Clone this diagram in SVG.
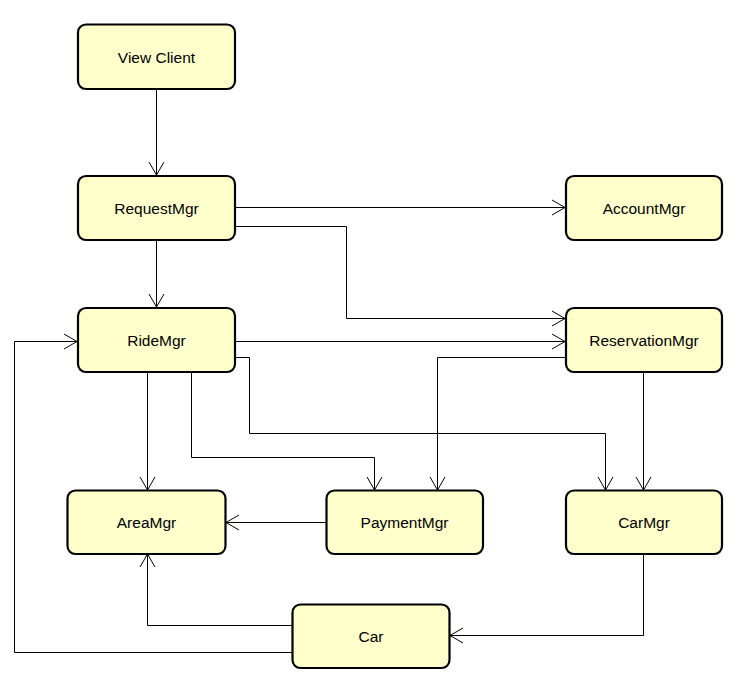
<svg xmlns="http://www.w3.org/2000/svg" width="739" height="679" viewBox="0 0 739 679">
  <style>
    .node rect { fill: #ffffcc; stroke: #000; stroke-width: 2.2; }
    .node text { font-family: "Liberation Sans", Arial, sans-serif; font-size: 15.5px; fill: #000; text-anchor: middle; }
    #edges path { fill: none; stroke: #000; stroke-width: 1; marker-end: url(#open); }
  </style>
  <defs>
    <marker id="open" markerUnits="userSpaceOnUse" markerWidth="20" markerHeight="20" viewBox="-15 -10 17 20" refX="0" refY="0" orient="auto">
      <path d="M-13,-7.5 L0,0 L-13,7.5" fill="none" stroke="#000" stroke-width="1"/>
    </marker>
  </defs>
  <rect width="739" height="679" fill="#fff"/>

  <g id="edges">
    <path d="M156.5,89 V175"/>
    <path d="M235,207.5 H565"/>
    <path d="M235,226.5 H346.5 V318.5 H565"/>
    <path d="M156.5,240 V307"/>
    <path d="M235,341.5 H565"/>
    <path d="M147.5,372 V490"/>
    <path d="M191.5,372 V457.5 H374.5 V490"/>
    <path d="M235,357.5 H249.5 V433.5 H605.5 V490"/>
    <path d="M565,357.5 H437.5 V490"/>
    <path d="M643.5,372 V490"/>
    <path d="M326,522.5 H226"/>
    <path d="M643.5,554 V635.5 H450"/>
    <path d="M292,625.5 H147.5 V554"/>
    <path d="M292,652.5 H14.5 V341.5 H77"/>
  </g>

  <g id="view-client" class="node">
    <rect x="78" y="24.5" width="157" height="64.5" rx="8"/>
    <text x="156.5" y="62.5">View Client</text>
  </g>
  <g id="request-mgr" class="node">
    <rect x="78" y="176" width="157" height="64" rx="8"/>
    <text x="156.5" y="213.5">RequestMgr</text>
  </g>
  <g id="account-mgr" class="node">
    <rect x="566" y="176" width="156" height="64" rx="8"/>
    <text x="644" y="213.5">AccountMgr</text>
  </g>
  <g id="ride-mgr" class="node">
    <rect x="78" y="308" width="157" height="64" rx="8"/>
    <text x="156.5" y="345.5">RideMgr</text>
  </g>
  <g id="reservation-mgr" class="node">
    <rect x="566" y="308" width="156" height="64" rx="8"/>
    <text x="644" y="345.5">ReservationMgr</text>
  </g>
  <g id="area-mgr" class="node">
    <rect x="67.5" y="490.5" width="158" height="63.5" rx="8"/>
    <text x="146.5" y="528">AreaMgr</text>
  </g>
  <g id="payment-mgr" class="node">
    <rect x="326.5" y="490.5" width="156.5" height="63.5" rx="8"/>
    <text x="404.5" y="528">PaymentMgr</text>
  </g>
  <g id="car-mgr" class="node">
    <rect x="566" y="490.5" width="156" height="63.5" rx="8"/>
    <text x="644" y="528">CarMgr</text>
  </g>
  <g id="car" class="node">
    <rect x="292.5" y="604.5" width="157" height="63.5" rx="8"/>
    <text x="371" y="642">Car</text>
  </g>
</svg>
